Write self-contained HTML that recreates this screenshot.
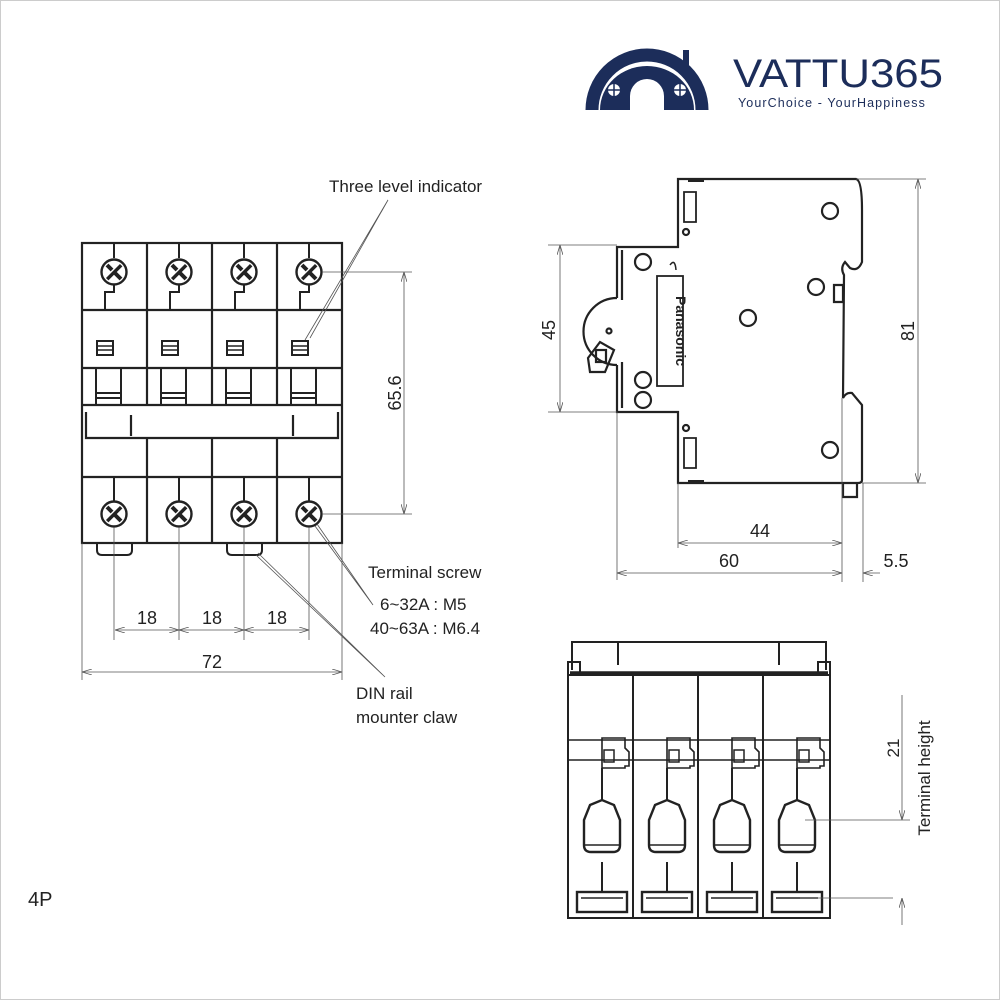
<!DOCTYPE html>
<html><head><meta charset="utf-8"><style>
html,body{margin:0;padding:0;background:#fff;}
svg{display:block;font-family:"Liberation Sans",sans-serif;}
</style></head><body>
<svg width="1000" height="1000" viewBox="0 0 1000 1000" xmlns="http://www.w3.org/2000/svg">
<defs>
<g id="scr">
<circle r="12.5" fill="#fff" stroke="#222" stroke-width="2.4"/>
<path d="M-7,-7L7,7M7,-7L-7,7" stroke="#222" stroke-width="4"/>
<path d="M-9,6L6,-9" stroke="#fff" stroke-width="1.3"/>
</g>
<g id="ind"><rect x="-8" y="-7" width="16" height="14" fill="#fff" stroke="#222" stroke-width="2"/><path d="M-8,-2H8M-8,2H8" stroke="#222" stroke-width="1.5"/></g>
<g id="pole" stroke="#222" stroke-width="2" fill="none">
<path d="M602,800V738H625V748L629,752V766H625V768H602V760" stroke-width="1.6"/>
<rect x="604" y="750" width="10" height="12" stroke-width="1.5"/>
<path d="M602,768V800M602,862V892"/>
<path d="M590,805L602,800L614,805L620,820V845Q620,852 613,852H591Q584,852 584,845V820Z" stroke-width="2.4"/>
<path d="M584,845H620" stroke-width="1.6"/>
<rect x="577" y="892" width="50" height="20" stroke-width="2.4"/>
<path d="M581,898H623" stroke-width="1.6"/>
</g>
<marker id="a" viewBox="0 0 10 6" refX="10" refY="3" markerWidth="10" markerHeight="6" orient="auto-start-reverse" markerUnits="userSpaceOnUse"><path d="M0,0L10,3L0,6" fill="none" stroke="#555" stroke-width="0.8"/></marker>
</defs>
<rect x="0.5" y="0.5" width="999" height="999" fill="#fff" stroke="#ccc"/>

<!-- Logo -->
<path d="M592,110 A55,55 0 0 1 702,110" fill="none" stroke="#1c2d5a" stroke-width="13"/>
<path d="M600,110 A47,44 0 0 1 694,110 Z" fill="#1c2d5a"/>
<path d="M630,110V96A17,17 0 0 1 664,96V110Z" fill="#fff"/>
<rect x="683" y="50" width="6" height="22" fill="#1c2d5a"/>
<circle cx="614" cy="90" r="6" fill="#fff"/><circle cx="680" cy="90" r="6" fill="#fff"/>
<path d="M608,90h12M614,84v12M674,90h12M680,84v12" stroke="#1c2d5a" stroke-width="1.5"/>
<text x="733" y="87" font-size="40" fill="#1c2d5a" textLength="210" lengthAdjust="spacingAndGlyphs">VATTU365</text>
<text x="738" y="107" font-size="12.5" fill="#1c2d5a" letter-spacing="1.1">YourChoice - YourHappiness</text>

<!-- Front view -->
<g stroke="#222" stroke-width="2.2" fill="none">
<rect x="82" y="243" width="260" height="300"/>
<path d="M82,310H342M82,368H342M82,477H342M147,243V405M212,243V405M277,243V405M147,438V543M212,438V543M277,438V543"/>
<path d="M82,405H342M86,412V438H338V412" />
<path d="M131,415V436M293,415V436"/>
<g stroke-width="2">
<path d="M96,368V405M121,368V405M161,368V405M186,368V405M226,368V405M251,368V405M291,368V405M316,368V405"/>
<path d="M96,393H121M96,398H121M161,393H186M161,398H186M226,393H251M226,398H251M291,393H316M291,398H316"/>
<path d="M114,243V258M114,285V292H105V310M179,243V258M179,285V292H170V310M244,243V258M244,285V292H235V310M309,243V258M309,285V292H300V310"/>
<path d="M114,477V501M179,477V501M244,477V501M309,477V501"/>
<path d="M97,543V550Q97,555 102,555H127Q132,555 132,550V543M227,543V550Q227,555 232,555H257Q262,555 262,550V543"/>
</g>
</g>
<use href="#scr" x="114" y="272"/><use href="#scr" x="179" y="272"/><use href="#scr" x="244" y="272"/><use href="#scr" x="309" y="272"/>
<use href="#scr" x="114" y="514"/><use href="#scr" x="179" y="514"/><use href="#scr" x="244" y="514"/><use href="#scr" x="309" y="514"/>
<use href="#ind" x="105" y="348"/><use href="#ind" x="170" y="348"/><use href="#ind" x="235" y="348"/><use href="#ind" x="300" y="348"/>

<g stroke="#555" stroke-width="0.8" fill="none">
<path d="M322,272H412M322,514H412"/>
<path d="M404,272V514" marker-start="url(#a)" marker-end="url(#a)"/>
<path d="M114,527V640M179,527V640M244,527V640M309,527V640M82,543V680M342,543V680"/>
<path d="M115,630H179" marker-start="url(#a)" marker-end="url(#a)"/>
<path d="M179,630H244" marker-start="url(#a)" marker-end="url(#a)"/>
<path d="M244,630H309" marker-start="url(#a)" marker-end="url(#a)"/>
<path d="M82,672H342" marker-start="url(#a)" marker-end="url(#a)"/>
<path d="M388,200L305,340M388,200L310,338"/>
<path d="M317,524L373,605M315,526L373,605"/>
<path d="M256,555L385,677M258,553L385,677"/>
</g>
<g fill="#222" font-size="17">
<text x="329" y="192">Three level indicator</text>
<text x="368" y="578">Terminal screw</text>
<text x="380" y="610">6~32A : M5</text>
<text x="370" y="634">40~63A : M6.4</text>
<text x="356" y="699">DIN rail</text>
<text x="356" y="723">mounter claw</text>
<text x="28" y="906" font-size="20">4P</text>
<text x="147" y="624" font-size="18" text-anchor="middle">18</text>
<text x="212" y="624" font-size="18" text-anchor="middle">18</text>
<text x="277" y="624" font-size="18" text-anchor="middle">18</text>
<text x="212" y="668" font-size="18" text-anchor="middle">72</text>
<text transform="translate(401,393) rotate(-90)" font-size="18" text-anchor="middle">65.6</text>
</g>

<!-- Side view -->
<g stroke="#222" stroke-width="2.2" fill="none">
<path d="M617,298V247H678V179H856Q862,180 862,210V262Q858,272 850,268L845,262Q840,268 844,275L843,398Q846,392 852,393L862,405V480Q862,483 858,483H678V412H617V365"/>
<path d="M617,298A24,24 0 0 0 617,365"/>
<path d="M622,250V300M622,362V408"/>
<path d="M588,358L600,342L614,350L605,372L590,372Z"/>
<rect x="596" y="350" width="10" height="12"/>
<rect x="657" y="276" width="26" height="110" stroke-width="1.8"/>
<circle cx="830" cy="211" r="8"/><circle cx="816" cy="287" r="8"/><circle cx="748" cy="318" r="8"/><circle cx="830" cy="450" r="8"/>
<circle cx="643" cy="262" r="8"/><circle cx="643" cy="380" r="8"/><circle cx="643" cy="400" r="8"/>
<circle cx="686" cy="232" r="3"/><circle cx="686" cy="428" r="3"/><circle cx="609" cy="331" r="2.5"/>
<path d="M684,192V222H696V192ZM684,438V468H696V438Z" stroke-width="1.8"/>
<path d="M688,180H704M688,482H704" stroke-width="4"/>
<path d="M834,285H843V302H834ZM843,483V497H857V483"/>
<path d="M670,265Q675,258 676,270" stroke-width="1.5"/>
</g>
<text transform="translate(676,331) rotate(90)" font-size="14" font-weight="bold" fill="#222" text-anchor="middle">Panasonic</text>
<g stroke="#555" stroke-width="0.8" fill="none">
<path d="M548,245H617M548,412H617M856,179H926M862,483H926"/>
<path d="M560,245V412" marker-start="url(#a)" marker-end="url(#a)"/>
<path d="M918,179V483" marker-start="url(#a)" marker-end="url(#a)"/>
<path d="M678,483V548M617,412V580M842,398V582M863,483V582"/>
<path d="M678,543H842" marker-start="url(#a)" marker-end="url(#a)"/>
<path d="M617,573H842" marker-start="url(#a)" marker-end="url(#a)"/>
<path d="M863,573H880" marker-start="url(#a)"/>
</g>
<g fill="#222" font-size="18">
<text x="760" y="537" text-anchor="middle">44</text>
<text x="729" y="567" text-anchor="middle">60</text>
<text x="896" y="567" text-anchor="middle">5.5</text>
<text transform="translate(555,330) rotate(-90)" text-anchor="middle">45</text>
<text transform="translate(914,331) rotate(-90)" text-anchor="middle">81</text>
</g>

<!-- Bottom view -->
<g stroke="#222" stroke-width="2" fill="none">
<path d="M572,670V642H826V670M618,643V665M779,643V665"/>
<path d="M568,677V662H580V675M830,677V662H818V675"/>
<path d="M568,675H830V918H568Z" />
<path d="M570,673H828" stroke-width="3.5"/>
<path d="M633,675V918M698,675V918M763,675V918"/>
<path d="M568,740H830M568,760H830" stroke-width="1.6"/>
</g>
<use href="#pole"/><use href="#pole" x="65"/><use href="#pole" x="130"/><use href="#pole" x="195"/>
<g stroke="#555" stroke-width="0.8" fill="none">
<path d="M805,820H910M800,898H893"/>
<path d="M902,695V820" marker-end="url(#a)"/>
<path d="M902,925V898" marker-end="url(#a)"/>
</g>
<g fill="#222" font-size="17">
<text transform="translate(899,748) rotate(-90)" text-anchor="middle">21</text>
<text transform="translate(930,778) rotate(-90)" text-anchor="middle">Terminal height</text>
</g>
</svg>
</body></html>
